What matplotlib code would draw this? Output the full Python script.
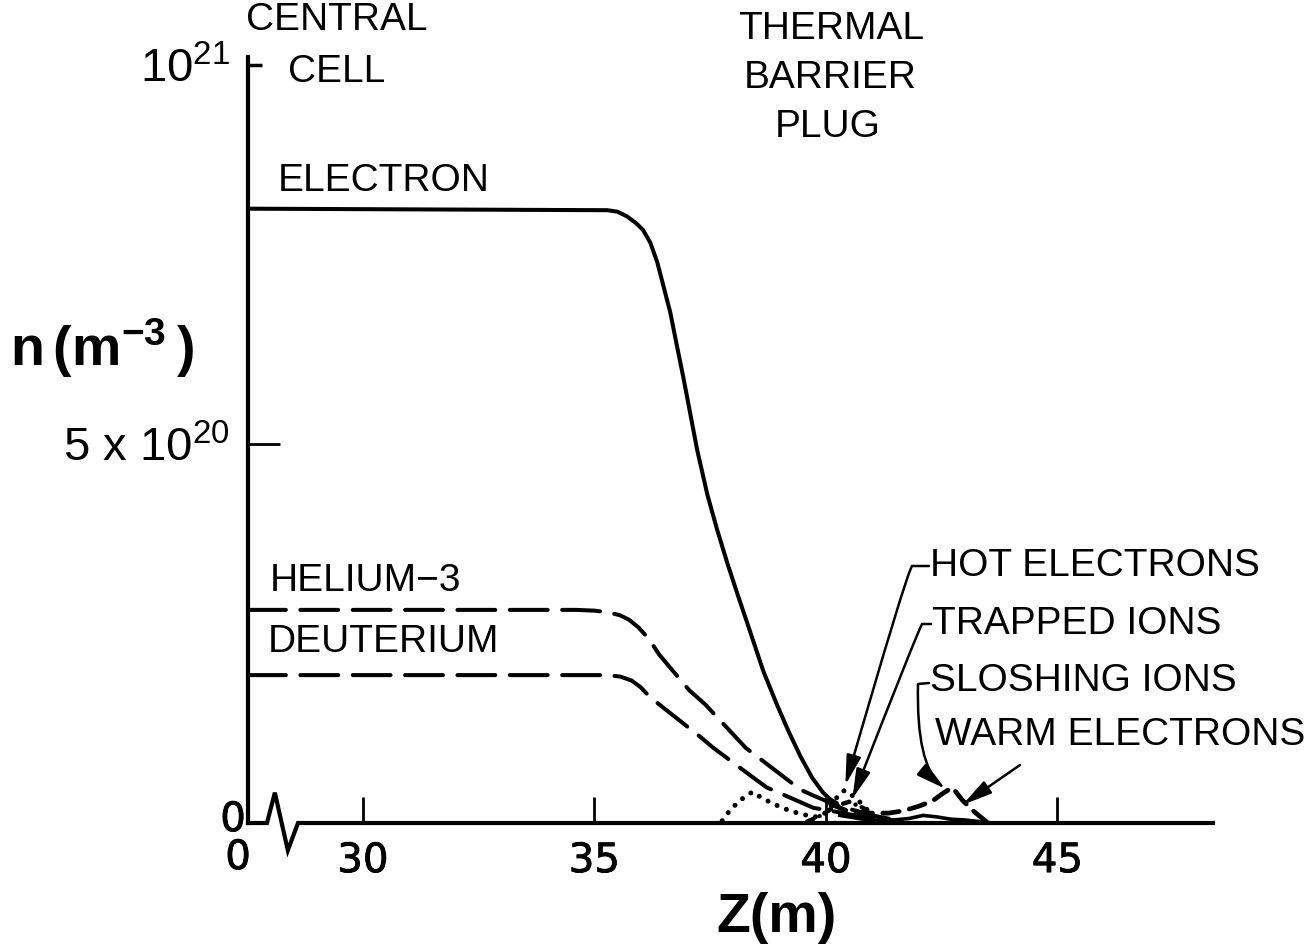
import matplotlib
matplotlib.use("Agg")
import matplotlib.pyplot as plt
import matplotlib.patheffects as pe
from matplotlib.patches import FancyArrowPatch
from matplotlib.path import Path

plt.rcParams["font.family"] = ["Liberation Sans", "DejaVu Sans"]
plt.rcParams["mathtext.fontset"] = "custom"
plt.rcParams["mathtext.rm"] = "Liberation Sans"
plt.rcParams["mathtext.bf"] = "Liberation Sans:bold"
plt.rcParams["mathtext.default"] = "regular"

W, H = 1316, 952

# z in metres; the axis origin stands in for the broken-off z = 0 end
Z_ORIGIN = 27.52
Z_END = 48.36
N_TOP = 10.1  # density in units of 1e20 m^-3

electron_z = [Z_ORIGIN, 35.28, 35.5, 35.7, 35.9, 36.05, 36.21, 36.36, 36.5, 36.64,
              36.78, 36.92, 37.07, 37.22, 37.44, 37.65, 37.87, 38.1, 38.3, 38.65,
              38.95, 39.2, 39.45, 39.7, 39.94, 40.1, 40.24]
electron_n = [8.10, 8.08, 8.06, 8.00, 7.91, 7.82, 7.65, 7.39, 7.06, 6.73,
              6.30, 5.88, 5.40, 4.92, 4.33, 3.87, 3.43, 3.00, 2.64, 2.00,
              1.55, 1.20, 0.88, 0.60, 0.40, 0.31, 0.26]

helium3_z = [Z_ORIGIN, 34.6, 35.0, 35.28, 35.55, 35.75, 35.95, 36.1, 36.25, 36.4,
             37.05, 37.4, 38.27, 38.55, 39.45, 39.7, 40.2, 40.6, 41.0, 41.5]
helium3_n = [2.81, 2.81, 2.80, 2.78, 2.74, 2.68, 2.58, 2.48, 2.36, 2.22,
             1.75, 1.56, 0.99, 0.86, 0.44, 0.37, 0.24, 0.17, 0.10, 0.04]

deuterium_z = [Z_ORIGIN, 34.8, 35.3, 35.56, 35.8, 36.0, 36.2, 36.47, 37.3, 37.55,
               38.45, 38.72, 39.73, 40.2, 40.8, 41.5]
deuterium_n = [1.95, 1.95, 1.95, 1.93, 1.88, 1.79, 1.66, 1.53, 1.13, 1.00,
               0.59, 0.47, 0.20, 0.15, 0.08, 0.03]

hot_e_z = [37.76, 37.93, 38.15, 38.41, 38.62, 38.84, 39.06, 39.28, 39.52, 39.8,
           40.05, 40.25, 40.4, 40.6, 40.8, 41.0, 41.2]
hot_e_n = [0.03, 0.17, 0.30, 0.41, 0.33, 0.26, 0.20, 0.15, 0.11, 0.08,
           0.15, 0.35, 0.43, 0.35, 0.24, 0.10, 0.02]

trapped_z = [39.6, 39.9, 40.2, 40.5, 40.8, 41.1, 41.4]
trapped_n = [0.02, 0.10, 0.22, 0.28, 0.20, 0.08, 0.02]

sloshing_z = [40.1, 40.5, 40.96, 41.35, 41.67, 42.0, 42.3, 42.5, 42.73, 42.95, 43.2, 43.5]
sloshing_n = [0.25, 0.15, 0.13, 0.13, 0.16, 0.22, 0.29, 0.38, 0.47, 0.30, 0.15, 0.0]

warm_e_z = [40.3, 40.8, 41.3, 41.8, 42.1, 42.4, 42.7, 43.0, 43.3, 43.6]
warm_e_n = [0.10, 0.05, 0.03, 0.06, 0.10, 0.08, 0.05, 0.04, 0.02, 0.0]

x_ticks = [30, 35, 40, 45]
y_major = [5]
y_major_labels = ["5 x 10$^{20}$"]
y_minor = [10]
y_minor_labels = ["10$^{21}$"]


def fpx(x, y):
    """pixel position (from top-left) -> figure fraction"""
    return (x / W, 1 - y / H)


fig = plt.figure(figsize=(W / 100, H / 100), dpi=100)
ax = fig.add_axes([248 / W, (H - 823) / H, (1213 - 248) / W, (823 - 57) / H])
ax.set_xlim(Z_ORIGIN, Z_END)
ax.set_ylim(0, N_TOP)

for s in ("top", "right", "bottom"):
    ax.spines[s].set_visible(False)
ax.spines["left"].set_linewidth(3)

# bottom axis with the break near the origin
ax.plot([Z_ORIGIN, 27.93, 28.10, 28.38, 28.60, Z_END], [0, 0, 0.40, -0.36, 0, 0],
        color="k", lw=3, clip_on=False, solid_joinstyle="miter")

lw = 2.9
ax.plot(electron_z, electron_n, color="k", lw=lw, solid_capstyle="round", solid_joinstyle="round")
ax.plot(helium3_z, helium3_n, color="k", lw=lw, linestyle=(0, (9.4, 3.6)), dash_capstyle="round")
ax.plot(deuterium_z, deuterium_n, color="k", lw=lw, linestyle=(0, (9.4, 3.6)), dash_capstyle="round")
ax.plot(hot_e_z, hot_e_n, color="k", lw=3.6, linestyle=(0, (0.01, 2.0)), dash_capstyle="round")
ax.plot(trapped_z, trapped_n, color="k", lw=3.2, linestyle=(0, (1.5, 1.5, 0.01, 1.5)), dash_capstyle="round")
ax.plot(sloshing_z, sloshing_n, color="k", lw=3.4, linestyle=(0, (3.5, 2.2)), dash_capstyle="round")
ax.plot(warm_e_z, warm_e_n, color="k", lw=2.6)

# medium-weight lettering for the numbers: regular face with a thin stroke
medium = [pe.withStroke(linewidth=0.6, foreground="k")]
tick_font = dict(family="DejaVu Sans", size=29)
ax.set_xticks(x_ticks)
ax.tick_params(axis="x", direction="in", length=19, width=2, pad=13)
for lab in ax.get_xticklabels():
    lab.set_fontproperties(tick_font)
    lab.set_path_effects(medium)
ax.set_yticks(y_major, labels=y_major_labels)
ax.set_yticks(y_minor, labels=y_minor_labels, minor=True)
ax.tick_params(axis="y", which="major", direction="in", length=23, width=2, pad=13, labelsize=34)
ax.tick_params(axis="y", which="minor", direction="in", length=10, width=2.5, pad=13, labelsize=34)

# zeros at the origin
fig.text(*fpx(233, 820), "0", ha="center", va="center", fontproperties=tick_font, path_effects=medium)
fig.text(*fpx(238, 858), "0", ha="center", va="center", fontproperties=tick_font, path_effects=medium)

# axis titles
fig.text(*fpx(10, 348), r"$\mathbf{n\,(m^{-3}\,)}$", fontsize=40, ha="left", va="center")
fig.text(*fpx(776, 918), "Z(m)", fontsize=40, fontweight="bold", ha="center", va="center")

# region and species labels
fs = 28
fig.text(*fpx(337, 20), "CENTRAL", fontsize=fs, ha="center", va="center")
fig.text(*fpx(337, 72), "CELL", fontsize=fs, ha="center", va="center")
fig.text(*fpx(831, 29), "THERMAL", fontsize=fs, ha="center", va="center")
fig.text(*fpx(830, 78), "BARRIER", fontsize=fs, ha="center", va="center")
fig.text(*fpx(828, 127), "PLUG", fontsize=fs, ha="center", va="center")
fig.text(*fpx(278, 181), "ELECTRON", fontsize=fs, ha="left", va="center")
fig.text(*fpx(270, 581), "HELIUM\u22123", fontsize=fs, ha="left", va="center")
fig.text(*fpx(268, 642), "DEUTERIUM", fontsize=fs, ha="left", va="center")
fig.text(*fpx(930, 566), "HOT ELECTRONS", fontsize=fs, ha="left", va="center")
fig.text(*fpx(932, 624), "TRAPPED IONS", fontsize=fs, ha="left", va="center")
fig.text(*fpx(930, 681), "SLOSHING IONS", fontsize=fs, ha="left", va="center")
fig.text(*fpx(935, 735), "WARM ELECTRONS", fontsize=fs, ha="left", va="center")

# pointer arrows, drawn in figure fraction with tips taken from data positions
fig.canvas.draw()
to_fig = fig.transFigure.inverted()


def tip(z, n):
    return tuple(to_fig.transform(ax.transData.transform((z, n))))


arrow_kw = dict(arrowstyle="-|>,head_length=0.9,head_width=0.22", mutation_scale=20,
                lw=1.8, color="k", transform=fig.transFigure, shrinkA=0, shrinkB=0)

paths = [
    ([fpx(929, 566), fpx(912, 566), fpx(906, 575), tip(40.42, 0.50)],
     [Path.MOVETO, Path.LINETO, Path.CURVE3, Path.CURVE3]),
    ([fpx(931, 624), fpx(922, 624), fpx(917, 633), tip(40.57, 0.32)],
     [Path.MOVETO, Path.LINETO, Path.CURVE3, Path.CURVE3]),
    ([fpx(929, 683), fpx(918, 684), fpx(916, 765), tip(42.58, 0.45)],
     [Path.MOVETO, Path.LINETO, Path.CURVE3, Path.CURVE3]),
    ([fpx(1020, 765), tip(42.95, 0.24)],
     [Path.MOVETO, Path.LINETO]),
]
for verts, codes in paths:
    fig.add_artist(FancyArrowPatch(path=Path(verts, codes), **arrow_kw))

fig.savefig("out.png", dpi=100)
